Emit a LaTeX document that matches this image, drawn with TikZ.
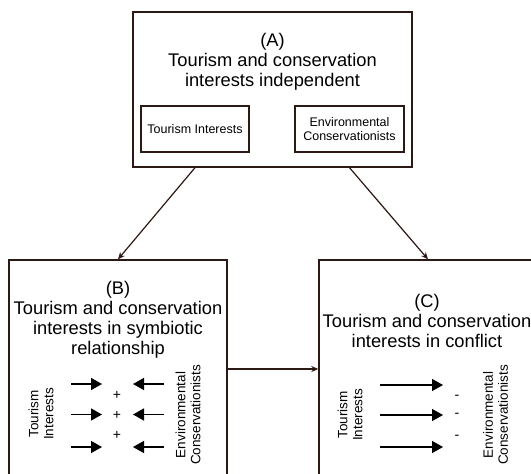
\documentclass[tikz,border=0pt]{standalone}
\usepackage{fontspec}
\setmainfont{Liberation Sans}
\usetikzlibrary{arrows.meta, positioning, calc}
\definecolor{edgebrown}{RGB}{45,25,20}

\begin{document}
\begin{tikzpicture}[
        x=1pt, y=-1pt,
        every node/.style={font=\fontsize{12.5}{14.5}\selectfont, text=black}, % texto base
        panel/.style={draw=edgebrown, line width=1.4pt, rectangle, fill=white},
        inner_box/.style={draw=edgebrown, line width=1.4pt, rectangle, align=center},
        title_text/.style={align=center, font=\fontsize{18.3}{20}\selectfont},
        side_label/.style={align=center, rotate=90, font=\fontsize{13.5}{15}\selectfont},
        sign/.style={font=\fontsize{14}{14}\selectfont},
        link_arrow/.style={-{Stealth[length=7pt, width=6pt]}, line width=1.2pt, draw=edgebrown},
        push_arrow/.style={-{Triangle[length=11pt, width=12pt]}, line width=1.4pt, draw=black}
    ]
        % --- Marco de la imagen ---
        \clip (0,0) rectangle (531,474);
        \fill[white] (0,0) rectangle (531,474);

        % --- Caja A ---
        \node[panel, minimum width=279pt, minimum height=155pt] (A) at (272.5,89.5) {};
        \node[title_text] (A_title) at (272.5,62) {(A)\\Tourism and conservation\\interests independent};
        \node[inner_box, minimum width=108pt, minimum height=46pt] (TI) at (195,129) {Tourism Interests};
        \node[inner_box, minimum width=109pt, minimum height=46pt] (EC) at (349.5,129) {Environmental\\Conservationists};

        % --- Cajas B y C ---
        \node[panel, minimum width=218pt, minimum height=218pt] (B) at (118,369) {};
        \node[panel, minimum width=218pt, minimum height=218pt] (C) at (428,369) {};

        \node[title_text] (B_title) at (118,320) {(B)\\Tourism and conservation\\interests in symbiotic\\relationship};
        \node[title_text] (C_title) at (427,320.5) {(C)\\Tourism and conservation\\interests in conflict};

        % --- Flechas entre cajas ---
        \draw[link_arrow] (TI |- A.south) -- (B.north);
        \draw[link_arrow] (EC |- A.south) -- (C.north);
        \draw[link_arrow] (B.east) -- (C.west);

        % --- Relacion simbiotica (B) ---
        \node[side_label] (B_tour) at (41,414) {Tourism\\Interests};
        \node[side_label] (B_env) at (188,415) {Environmental\\Conservationists};
        \foreach \y/\py in {384/395, 414.5/415, 447/435} {
            \draw[push_arrow] (71,\y) -- (102,\y);
            \draw[push_arrow] (164,\y) -- (133,\y);
            \node[sign] at (117,\py) {+};
        }

        % --- Relacion en conflicto (C) ---
        \node[side_label] (C_tour) at (350,415) {Tourism\\Interests};
        \node[side_label] (C_env) at (495.5,415) {Environmental\\Conservationists};
        \foreach \y/\py in {385/397, 415/415, 447/437} {
            \draw[push_arrow] (380,\y) -- (443,\y);
            \node[sign] at (457,\py) {-};
        }
\end{tikzpicture}
\end{document}
